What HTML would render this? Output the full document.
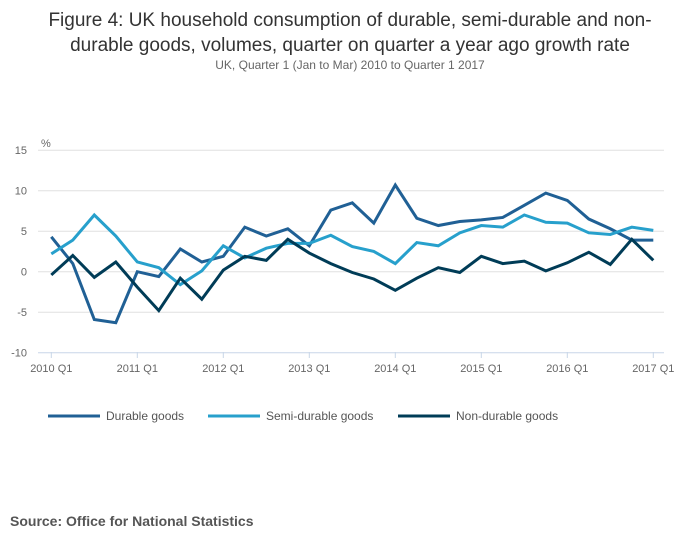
<!DOCTYPE html>
<html><head><meta charset="utf-8"><style>
body{margin:0;background:#fff;font-family:"Liberation Sans",sans-serif;}
#wrap{position:relative;width:700px;height:549px;overflow:hidden;}
.title{position:absolute;top:8px;left:0;width:700px;text-align:center;font-size:19px;line-height:25px;color:#333;}
.sub{position:absolute;top:58px;left:0;width:700px;text-align:center;font-size:12px;color:#666;}
.src{position:absolute;left:10px;top:513px;font-size:14px;font-weight:bold;color:#555;}
</style></head><body>
<div id="wrap">
<div class="title">Figure 4: UK household consumption of durable, semi-durable and non-<br>durable goods, volumes, quarter on quarter a year ago growth rate</div>
<div class="sub">UK, Quarter 1 (Jan to Mar) 2010 to Quarter 1 2017</div>
<svg id="chart" width="700" height="549" style="position:absolute;left:0;top:0"></svg>
<div class="src">Source: Office for National Statistics</div>
</div>
<script>
const tickYears = ["2010 Q1","2011 Q1","2012 Q1","2013 Q1","2014 Q1","2015 Q1","2016 Q1","2017 Q1"];
const yTicks = [15,10,5,0,-5,-10];
const durable = [4.3,1.0,-5.9,-6.3,0.0,-0.6,2.8,1.2,1.9,5.5,4.4,5.3,3.2,7.6,8.5,6.0,10.7,6.6,5.7,6.2,6.4,6.7,8.2,9.7,8.8,6.5,5.3,3.9,3.9];
const semi = [2.2,3.9,7.0,4.4,1.2,0.5,-1.6,0.1,3.2,1.7,2.9,3.5,3.5,4.5,3.1,2.5,1.0,3.6,3.2,4.8,5.7,5.5,7.0,6.1,6.0,4.8,4.6,5.5,5.1];
const nondur = [-0.4,2.0,-0.7,1.2,-1.9,-4.8,-0.8,-3.4,0.2,1.9,1.4,4.0,2.3,1.0,-0.1,-0.9,-2.3,-0.8,0.5,-0.1,1.9,1.0,1.3,0.1,1.1,2.4,0.9,4.0,1.4];
const seriesNames = ["Durable goods","Semi-durable goods","Non-durable goods"];
const svg = document.getElementById('chart');
const NS = "http://www.w3.org/2000/svg";
const x0=51.3, xq=21.5, yZero=271.7, yu=8.1;
const X = i => x0 + i*xq;
const Y = v => yZero - v*yu;
function mk(t, a){const e=document.createElementNS(NS,t);for(const k in a)e.setAttribute(k,a[k]);svg.appendChild(e);return e;}
yTicks.forEach(v=>{
  const l=mk('line',{x1:38,x2:664,y1:Y(v),y2:Y(v),stroke:v===-10?'#c8d6e8':'#e0e0e0','stroke-width':1});
  
  
  const t=mk('text',{x:27,y:Y(v)+4,'text-anchor':'end','font-size':11,fill:'#666'});
  t.textContent=v;
  
  
});
const pct=mk('text',{x:41,y:147,'font-size':11,fill:'#666'});pct.textContent='%';


tickYears.forEach((lab,k)=>{
  const x=X(k*4);
  const tk=mk('line',{x1:x,x2:x,y1:352,y2:358,stroke:'#c8d6e8'});
  
  
  const t=mk('text',{x:x,y:372,'text-anchor':'middle','font-size':11,fill:'#666'});
  t.textContent=lab;
  
  
});
const cols=['#206095','#27a0cc','#003c57'];
[durable,semi,nondur].forEach((d,s)=>{
  const p=mk('polyline',{points:d.map((v,i)=>X(i)+','+Y(v)).join(' '),fill:'none',stroke:cols[s],'stroke-width':3,'stroke-linejoin':'miter'});
  
  
});
const lx=[48,208,398];
seriesNames.forEach((n,s)=>{
  const l=mk('line',{x1:lx[s],x2:lx[s]+52,y1:416,y2:416,stroke:cols[s],'stroke-width':3});
  
  
  const t=mk('text',{x:lx[s]+58,y:420,'font-size':12,fill:'#555'});
  t.textContent=n;
  
  
});
</script>
</body></html>
